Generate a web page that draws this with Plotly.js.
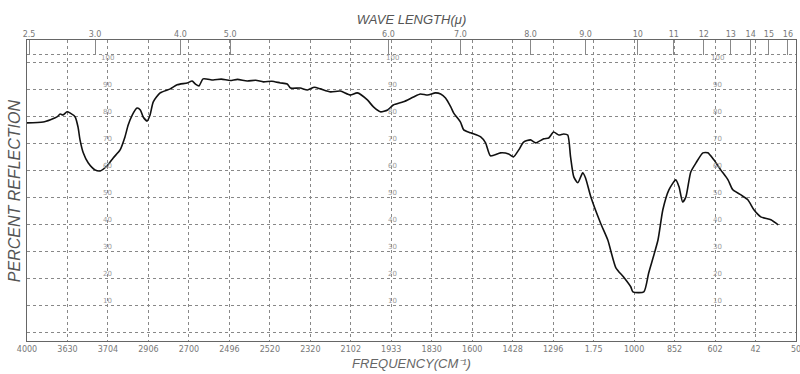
<!DOCTYPE html>
<html>
<head>
<meta charset="utf-8">
<script src="https://cdn.plot.ly/plotly-3.0.1.min.js"></script>
<style>html,body{margin:0;padding:0;background:#fff;}#chart{width:800px;height:374px;}</style>
</head>
<body>
<div id="chart"></div>
<script>
// Chart position along the frequency grid (0 = 4000 line, 19 = right edge)
var specX = [0.00,0.40,0.74,0.82,0.89,0.99,1.06,1.19,1.26,1.31,1.39,1.51,1.68,1.81,1.98,2.13,2.30,2.42,2.50,2.60,2.72,2.80,2.87,2.97,3.04,3.12,3.29,3.54,3.71,3.96,4.08,4.16,4.25,4.35,4.60,4.80,5.02,5.20,5.44,5.65,5.84,6.05,6.26,6.43,6.51,6.75,6.93,7.10,7.25,7.50,7.74,7.99,8.16,8.41,8.56,8.73,8.91,9.05,9.30,9.55,9.72,9.90,10.09,10.22,10.34,10.47,10.54,10.71,10.79,10.96,11.21,11.33,11.45,11.70,11.90,12.02,12.15,12.27,12.44,12.57,12.77,12.89,13.01,13.14,13.26,13.36,13.43,13.51,13.61,13.73,13.80,13.93,14.17,14.35,14.55,14.74,14.92,14.97,15.24,15.36,15.59,15.71,15.86,16.03,16.11,16.20,16.28,16.40,16.53,16.70,16.82,16.97,17.14,17.32,17.44,17.64,17.81,17.96,18.13,18.38,18.56];
var specY = [77.8,78.1,80.0,81.1,80.7,81.9,81.5,80.0,76.3,71.5,66.7,63.0,60.4,60.0,61.9,64.8,67.8,72.6,77.0,80.7,83.3,82.6,80.0,78.5,80.7,85.6,88.9,90.4,91.9,92.6,93.3,92.2,91.5,94.1,93.7,94.0,93.5,93.9,93.3,93.6,93.0,93.2,92.6,92.2,90.7,90.7,90.0,91.0,90.4,89.3,89.6,88.1,88.9,86.3,83.7,81.9,82.6,84.4,85.6,87.4,88.5,88.1,88.9,88.5,87.0,83.7,81.5,78.1,75.2,74.1,72.6,70.4,65.6,66.7,66.3,65.2,67.8,70.7,71.5,70.4,71.9,72.2,74.4,73.3,73.7,73.3,65.2,57.8,55.6,59.3,57.4,50.4,40.7,34.4,24.1,20.7,17.0,15.2,15.2,22.2,34.4,45.6,53.0,56.7,54.1,48.5,50.4,59.6,63.0,66.7,66.7,64.1,60.4,56.7,53.0,51.1,49.3,45.6,43.0,41.9,40.0];

// Bottom frequency grid labels (as printed)
var freqPos = [0,1,2,3,4,5,6,7,8,9,10,11,12,13,14,15,16,17,18,19];
var freqLabels = ["4000","3630","3704","2906","2700","2496","2520","2320","2102","1933","1830","1600","1428","1296","1.75","1000","852","602","42","50"];

// Top wavelength labels (microns) and their positions on the grid
var wlPos = [0.05,1.68,3.79,5.02,8.93,10.71,12.44,13.80,15.09,15.98,16.72,17.39,17.88,18.33,18.80];
var wlLabels = ["2.5","3.0","4.0","5.0","6.0","7.0","8.0","9.0","10","11","12","13","14","15","16"];

// Percent grid
var pctGrid = [0,10,20,30,40,50,60,70,80,90,100,103];
var pctLabels = ["10","20","30","40","50","60","70","80","90","100"];
var pctLabelVals = [10,20,30,40,50,60,70,80,90,100];
var pctLabelCols = [1.98,9.03,17.07];

var annotations = [];
pctLabelCols.forEach(function(c){
  pctLabelVals.forEach(function(v,i){
    annotations.push({x:c, y:v, xref:'x', yref:'y', text:pctLabels[i], showarrow:false,
      yanchor:'bottom', yshift:-1, font:{family:'DejaVu Sans', size:7, color:'#999'}});
  });
});
annotations.push({x:-0.016, y:0.50, xref:'paper', yref:'paper', xanchor:'center', yanchor:'middle',
  text:'PERCENT REFLECTION', textangle:-90,
  showarrow:false, font:{family:'Liberation Sans', size:16, color:'#555', style:'italic'}});

var traces = [
  {x:specX, y:specY, type:'scatter', mode:'lines', line:{color:'#111', width:1.6, shape:'spline', smoothing:0.6}, hoverinfo:'skip', showlegend:false},
  {x:wlPos, y:wlPos.map(function(){return null;}), xaxis:'x2', type:'scatter', mode:'markers', hoverinfo:'skip', showlegend:false}
];

var layout = {
  width:800, height:374,
  margin:{l:27, r:4, t:40, b:33},
  paper_bgcolor:'#fff', plot_bgcolor:'#fff',
  showlegend:false,
  annotations: annotations,
  xaxis:{range:[0,19], tickvals:freqPos, ticktext:freqLabels, ticks:'', showgrid:true, griddash:'dot', gridcolor:'#888', gridwidth:1,
    zeroline:false, showline:true, mirror:true, linecolor:'#666', linewidth:1, ticklabeloverflow:'allow',
    tickfont:{family:'DejaVu Sans', size:8, color:'#777'},
    title:{text:'FREQUENCY(CM⁻¹)', font:{family:'Liberation Sans', size:13, color:'#666', style:'italic'}, standoff:6}},
  xaxis2:{range:[0,19], overlaying:'x', side:'top', tickvals:wlPos, ticktext:wlLabels, ticks:'inside', ticklen:15, tickcolor:'#888', tickwidth:1,
    showgrid:false, zeroline:false, showline:false, ticklabeloverflow:'allow', tickfont:{family:'DejaVu Sans', size:8, color:'#777'},
    title:{text:'WAVE LENGTH(μ)', font:{family:'Liberation Sans', size:13, color:'#555', style:'italic'}, standoff:2}},
  yaxis:{range:[-3,108.5], tickvals:pctGrid, showticklabels:false, ticks:'', showgrid:true, griddash:'dot', gridcolor:'#888', gridwidth:1,
    zeroline:false, showline:true, mirror:true, linecolor:'#666', linewidth:1}
};

Plotly.newPlot('chart', traces, layout, {displayModeBar:false, staticPlot:true});
</script>
</body>
</html>
